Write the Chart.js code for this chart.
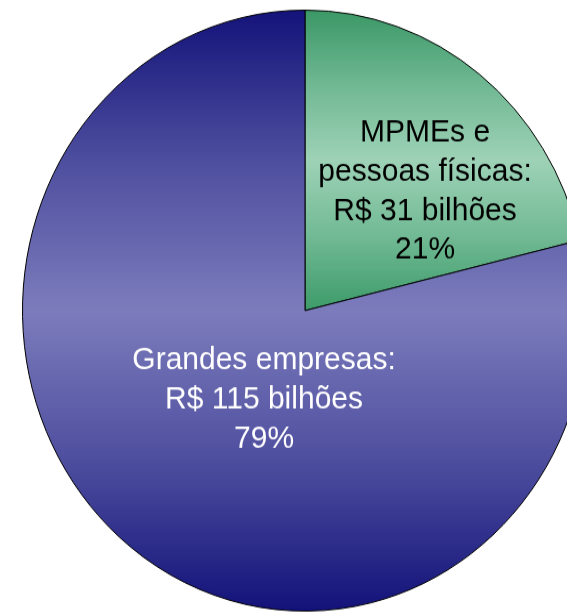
<!DOCTYPE html>
<html>
<head>
<meta charset="utf-8">
<script src="https://cdn.jsdelivr.net/npm/chart.js@4/dist/chart.umd.min.js"></script>
<style>
  html, body { margin: 0; padding: 0; background: #fff; overflow: hidden; width: 567px; height: 613px; }
  #wrap { position: absolute; left: 0; top: 0; width: 610px; height: 584px; transform: scaleY(1.0637); transform-origin: 0 0; }
</style>
</head>
<body>
<div id="wrap"><canvas id="chart" width="610" height="584"></canvas></div>
<script>
// data (R$ bilhões)
const categories = ['MPMEs e pessoas físicas', 'Grandes empresas'];
const labelLines = [['MPMEs e', 'pessoas físicas:'], ['Grandes empresas:']];
const values = [31, 115];
const textColors = ['#000000', '#ffffff'];

const RADIUS = 282.5;

function sliceGradient(context) {
    const chart = context.chart;
    const area = chart.chartArea;
    if (!area) return null;
    const cy = (area.top + area.bottom) / 2;
    const top = cy - RADIUS;
    const ctx = chart.ctx;
    if (context.dataIndex === 0) {
        const g = ctx.createLinearGradient(0, top, 0, cy);
        g.addColorStop(0, '#3b9866');
        g.addColorStop(0.25, '#70b893');
        g.addColorStop(0.5, '#9ed2b7');
        g.addColorStop(0.75, '#72ba95');
        g.addColorStop(1, '#3d9b69');
        return g;
    }
    const g = ctx.createLinearGradient(0, top, 0, cy + RADIUS);
    g.addColorStop(0, '#13137a');
    g.addColorStop(0.25, '#4e4e9f');
    g.addColorStop(0.5, '#7c7cbd');
    g.addColorStop(0.75, '#4e4e9f');
    g.addColorStop(1, '#12127a');
    return g;
}

// text blocks, offsets as a fraction of the radius from the pie centre
const sliceLabels = {
    id: 'sliceLabels',
    afterDatasetsDraw(chart, args, opts) {
        const ctx = chart.ctx;
        const arcs = chart.getDatasetMeta(0).data;
        const total = values.reduce((a, b) => a + b, 0);
        ctx.save();
        ctx.font = '30px "Liberation Sans", Arial, sans-serif';
        ctx.textAlign = 'center';
        ctx.textBaseline = 'alphabetic';
        arcs.forEach((arc, i) => {
            const lines = labelLines[i].concat([
                'R$ ' + values[i] + ' bilhões',
                Math.round(values[i] / total * 100) + '%'
            ]);
            const x = arc.x + opts.offsets[i][0] * arc.outerRadius;
            let y = arc.y + opts.offsets[i][1] * arc.outerRadius;
            ctx.fillStyle = textColors[i];
            lines.forEach(line => {
                ctx.fillText(line, x, y);
                y += opts.lineHeight;
            });
        });
        ctx.restore();
    }
};

new Chart(document.getElementById('chart'), {
    type: 'pie',
    data: {
        labels: categories,
        datasets: [{
            data: values,
            backgroundColor: sliceGradient,
            borderColor: '#000000',
            borderWidth: 1,
            radius: RADIUS
        }]
    },
    options: {
        responsive: false,
        animation: false,
        events: [],
        layout: { padding: 0 },
        plugins: {
            legend: { display: false },
            tooltip: { enabled: false },
            sliceLabels: {
                offsets: [[0.425, -0.563], [-0.145, 0.195]],
                lineHeight: 36.8
            }
        }
    },
    plugins: [sliceLabels]
});
</script>
</body>
</html>
